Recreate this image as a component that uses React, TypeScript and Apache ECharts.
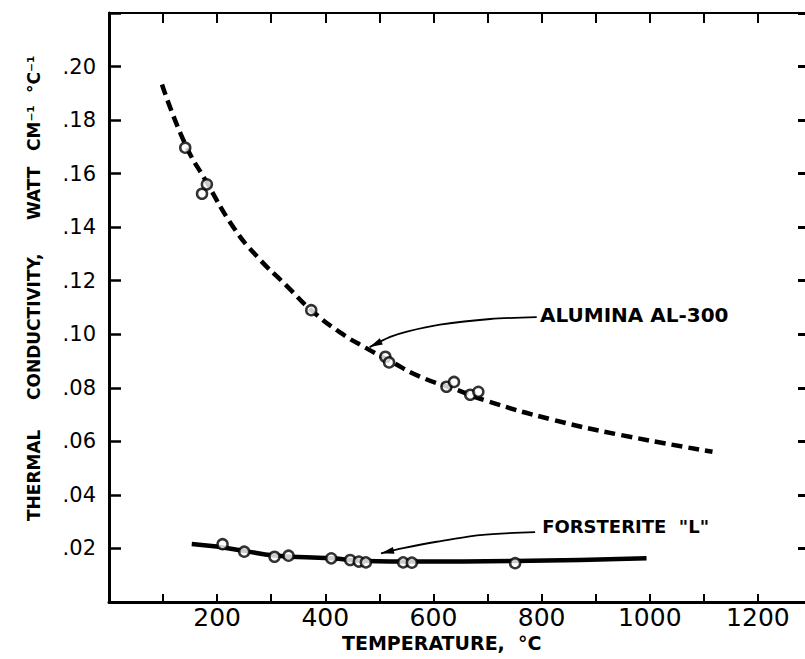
import React, { useEffect, useRef } from 'react';
import * as echarts from 'echarts';

// Alumina AL-300: measured points and drawn (dashed) curve
const aluminaX = [141, 172, 181, 374, 511, 518, 624, 638, 668, 683];
const aluminaY = [0.1697, 0.1525, 0.156, 0.109, 0.0916, 0.0895, 0.0804, 0.0822, 0.0774, 0.0785];
const aluminaCurveX = [98, 141, 180, 230, 274, 329, 374, 428, 474, 520, 576, 640, 700, 822, 946, 1116];
const aluminaCurveY = [0.1933, 0.171, 0.157, 0.140, 0.129, 0.118, 0.109, 0.1006, 0.095, 0.090, 0.0841, 0.0795, 0.0750, 0.068, 0.0624, 0.0561];

// Forsterite "L": measured points and drawn (solid) curve
const forsteriteX = [210, 250, 306, 332, 411, 446, 462, 475, 544, 560, 751];
const forsteriteY = [0.0216, 0.0188, 0.0169, 0.0173, 0.0163, 0.0157, 0.0151, 0.0148, 0.0148, 0.0147, 0.0145];
const forsteriteCurveX = [153, 199, 250, 306, 411, 475, 563, 748, 994];
const forsteriteCurveY = [0.0217, 0.0207, 0.0191, 0.0174, 0.0163, 0.0153, 0.0151, 0.0153, 0.0163];

// Tick labels
const xTickValues = [200, 400, 600, 800, 1000, 1200];
const xTickLabels = ['200', '400', '600', '800', '1000', '1200'];
const yTickValues = [0.02, 0.04, 0.06, 0.08, 0.10, 0.12, 0.14, 0.16, 0.18, 0.20];
const yTickLabels = ['.02', '.04', '.06', '.08', '.10', '.12', '.14', '.16', '.18', '.20'];

// Annotation leader lines (data coordinates)
const aluminaArrowX = [791, 705, 612, 551, 520, 482];
const aluminaArrowY = [0.1064, 0.1057, 0.1036, 0.1010, 0.0990, 0.0952];
const forsteriteArrowX = [788, 686, 606, 544, 503];
const forsteriteArrowY = [0.0261, 0.0250, 0.0225, 0.0201, 0.0182];
const aluminaLabel = 'ALUMINA AL-300';
const aluminaLabelPos = [797, 0.1073];
const forsteriteLabel = 'FORSTERITE  "L"';
const forsteriteLabelPos = [801, 0.0282];

const xTitle = 'TEMPERATURE,  °C';
const yTitleParts = ['THERMAL', 'CONDUCTIVITY,', 'WATT', 'CM⁻¹', '°C⁻¹'];
const yTitleStarts = [521, 400, 220, 151, 93];

const zip = (xs: number[], ys: number[]) => xs.map((x, i) => [x, ys[i]]);

export default function App() {
  const ref = useRef<HTMLDivElement>(null);
  useEffect(() => {
    document.body.style.margin = '0';
    if (!ref.current) return;
    const chart = echarts.init(ref.current, undefined, { renderer: 'svg' });
    const black = '#000';
    const font = 'DejaVu Sans';
    const xFmt = (v: number) => {
      const i = xTickValues.findIndex((t) => Math.abs(t - v) < 1e-6);
      return i >= 0 ? xTickLabels[i] : '';
    };
    const yFmt = (v: number) => {
      const i = yTickValues.findIndex((t) => Math.abs(t - v) < 1e-6);
      return i >= 0 ? yTickLabels[i] : '';
    };
    chart.setOption({
      animation: false,
      backgroundColor: '#fff',
      grid: { left: 109, top: 13, width: 703, height: 589, containLabel: false, outerBoundsMode: 'none' },
      xAxis: [
        {
          type: 'value', min: 0, max: 1300, interval: 100, position: 'bottom',
          axisLine: { onZero: false, lineStyle: { color: black, width: 3 } },
          axisTick: { inside: true, length: 8, lineStyle: { color: black, width: 2 } },
          axisLabel: { formatter: xFmt, fontSize: 25, color: black, fontFamily: font, margin: 3 },
          splitLine: { show: false },
        },
        {
          type: 'value', min: 0, max: 1300, interval: 100, position: 'top',
          axisLine: { onZero: false, lineStyle: { color: black, width: 2 } },
          axisTick: { inside: true, length: 10, lineStyle: { color: black, width: 2 } },
          axisLabel: { show: false },
          splitLine: { show: false },
        },
      ],
      yAxis: [
        {
          type: 'value', min: 0, max: 0.22, interval: 0.02, position: 'left',
          axisLine: { show: true, onZero: false, lineStyle: { color: black, width: 3 } },
          axisTick: { show: true, inside: true, length: 12, lineStyle: { color: black, width: 2.5 } },
          axisLabel: { formatter: yFmt, fontSize: 21, color: black, fontFamily: font, margin: 13 },
          splitLine: { show: false },
        },
        {
          type: 'value', min: 0, max: 0.22, interval: 0.02, position: 'right',
          axisLine: { show: true, onZero: false, lineStyle: { color: black, width: 2 } },
          axisTick: { show: true, inside: true, length: 14, lineStyle: { color: black, width: 3 } },
          axisLabel: { show: false },
          splitLine: { show: false },
        },
      ],
      series: [
        {
          name: 'Alumina AL-300 curve', type: 'line', data: zip(aluminaCurveX, aluminaCurveY),
          smooth: true, symbol: 'none',
          lineStyle: { color: black, width: 4.5, type: [11, 6] }, z: 2,
        },
        {
          name: 'Forsterite L curve', type: 'line', data: zip(forsteriteCurveX, forsteriteCurveY),
          smooth: true, symbol: 'none',
          lineStyle: { color: black, width: 4.5 }, z: 2,
        },
        {
          name: 'Alumina AL-300', type: 'scatter', data: zip(aluminaX, aluminaY),
          symbol: 'circle', symbolSize: 10,
          itemStyle: { color: '#fff', borderColor: black, borderWidth: 2.5 }, z: 3,
        },
        {
          name: 'Forsterite L', type: 'scatter', data: zip(forsteriteX, forsteriteY),
          symbol: 'circle', symbolSize: 10,
          itemStyle: { color: '#fff', borderColor: black, borderWidth: 2.5 }, z: 3,
        },
      ],
    });

    const px = (x: number, y: number) => chart.convertToPixel({ xAxisIndex: 0, yAxisIndex: 0 }, [x, y]) as number[];
    const arrow = (xs: number[], ys: number[]) => {
      const pts = xs.map((x, i) => px(x, ys[i]));
      const tip = pts[pts.length - 1];
      const prev = pts[pts.length - 2];
      const dx = tip[0] - prev[0];
      const dy = tip[1] - prev[1];
      const len = Math.hypot(dx, dy) || 1;
      const ux = dx / len;
      const uy = dy / len;
      const L = 13;
      const W = 3.5;
      return [
        {
          type: 'polyline',
          shape: { points: pts, smooth: 0.3 },
          style: { stroke: black, lineWidth: 1.8, fill: 'none' },
        },
        {
          type: 'polygon',
          shape: {
            points: [
              tip,
              [tip[0] - ux * L - uy * W, tip[1] - uy * L + ux * W],
              [tip[0] - ux * L + uy * W, tip[1] - uy * L - ux * W],
            ],
          },
          style: { fill: black },
        },
      ];
    };
    const aLab = px(aluminaLabelPos[0], aluminaLabelPos[1]);
    const fLab = px(forsteriteLabelPos[0], forsteriteLabelPos[1]);
    const graphics: any[] = [
      ...arrow(aluminaArrowX, aluminaArrowY),
      ...arrow(forsteriteArrowX, forsteriteArrowY),
      {
        type: 'text', x: aLab[0], y: aLab[1],
        style: { text: aluminaLabel, fill: black, font: `bold 20px "${font}"`, textAlign: 'left', textVerticalAlign: 'middle' },
      },
      {
        type: 'text', x: fLab[0], y: fLab[1],
        style: { text: forsteriteLabel, fill: black, font: `bold 18px "${font}"`, textAlign: 'left', textVerticalAlign: 'middle' },
      },
      {
        type: 'text', x: 342, y: 643,
        style: { text: xTitle, fill: black, font: `bold 19px "${font}"`, textAlign: 'left', textVerticalAlign: 'middle' },
      },
      ...yTitleParts.map((t, i) => ({
        type: 'text', x: 34, y: yTitleStarts[i], rotation: Math.PI / 2,
        style: { text: t, fill: black, font: `bold 17px "${font}"`, textAlign: 'left', textVerticalAlign: 'middle' },
      })),
    ];
    chart.setOption({ graphic: graphics });
    return () => chart.dispose();
  }, []);
  return <div ref={ref} style={{ width: 805, height: 659 }} />;
}
